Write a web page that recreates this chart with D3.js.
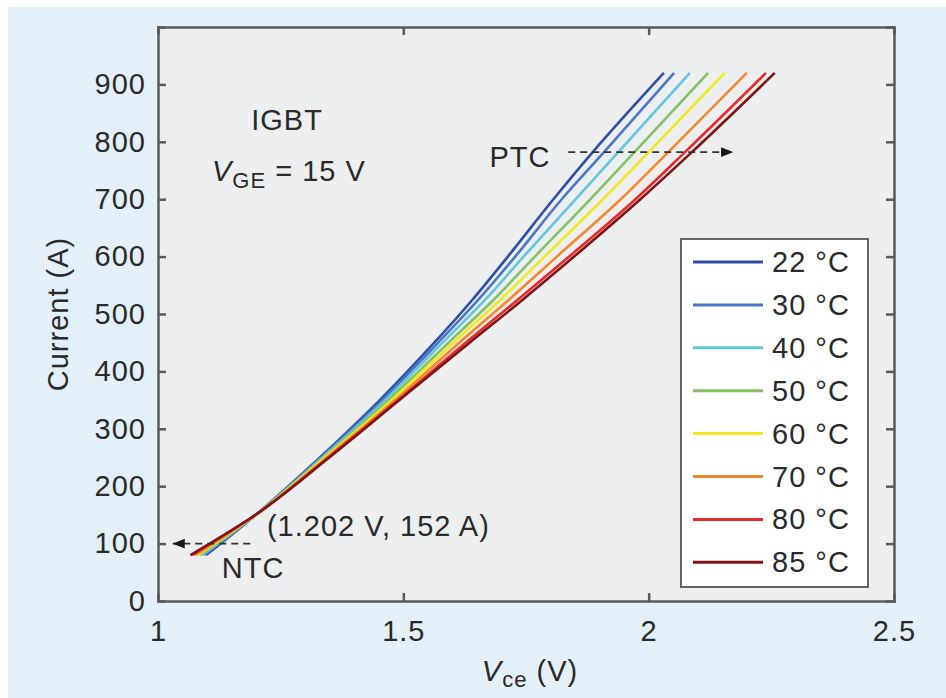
<!DOCTYPE html>
<html>
<head>
<meta charset="utf-8">
<script src="https://cdn.jsdelivr.net/npm/d3@7"></script>
<style>
  body { margin: 0; background: #fff; }
  text { font-family: "Liberation Sans", Arial, sans-serif; fill: #2a2a2a; letter-spacing: 1px; }
</style>
</head>
<body>
<svg id="chart" width="946" height="698"></svg>
<script>
// current levels (A) shared by every curve
const currents = [80, 152, 250, 350, 450, 524, 600, 699, 782, 920];
const temps = ["22 °C", "30 °C", "40 °C", "50 °C", "60 °C", "70 °C", "80 °C", "85 °C"];
const colors = ["#2f4ea6", "#4a78c6", "#62c6dc", "#84c266", "#eeea1c", "#f2882e", "#e62a2a", "#7c1616"];
// Vce (V) of each curve at the current levels above
const vce22 = [1.098, 1.202, 1.330, 1.452, 1.563, 1.640, 1.713, 1.805, 1.886, 2.031];
const vce30 = [1.094, 1.202, 1.332, 1.457, 1.571, 1.652, 1.728, 1.822, 1.909, 2.052];
const vce40 = [1.090, 1.202, 1.335, 1.463, 1.580, 1.666, 1.745, 1.850, 1.938, 2.084];
const vce50 = [1.085, 1.202, 1.338, 1.470, 1.592, 1.683, 1.768, 1.880, 1.971, 2.121];
const vce60 = [1.081, 1.202, 1.340, 1.476, 1.602, 1.697, 1.788, 1.906, 2.000, 2.155];
const vce70 = [1.076, 1.202, 1.344, 1.483, 1.614, 1.714, 1.813, 1.942, 2.040, 2.200];
const vce80 = [1.070, 1.202, 1.347, 1.489, 1.627, 1.732, 1.838, 1.972, 2.074, 2.239];
const vce85 = [1.066, 1.202, 1.349, 1.492, 1.635, 1.742, 1.848, 1.982, 2.088, 2.257];
const allVce = [vce22, vce30, vce40, vce50, vce60, vce70, vce80, vce85];

const xTicks = [1, 1.5, 2, 2.5];
const yTicks = [0, 100, 200, 300, 400, 500, 600, 700, 800, 900];

const svg = d3.select("#chart");
const pL = 158, pR = 894, pT = 27, pB = 601;
const fs = "29px";

const x = d3.scaleLinear().domain([1, 2.5]).range([pL, pR]);
const y = d3.scaleLinear().domain([0, 1000]).range([pB, pT]);

// outer light blue panel
svg.append("rect").attr("x", 8).attr("y", 7).attr("width", 938).attr("height", 691).attr("fill", "#e3eff9");
// plot background
svg.append("rect").attr("x", pL).attr("y", pT).attr("width", pR - pL).attr("height", pB - pT)
  .attr("fill", "#eceef0");

const axisCol = "#5a5a5a";
const tickLen = 8;

//axes: ticks pointing inward on all four sides
const axB = svg.append("g").attr("transform", `translate(0,${pB})`)
  .call(d3.axisBottom(x).tickValues(xTicks).tickSize(-tickLen).tickPadding(19).tickFormat(d3.format("")));
const axT = svg.append("g").attr("transform", `translate(0,${pT})`)
  .call(d3.axisTop(x).tickValues(xTicks).tickSize(-tickLen).tickFormat(""));
const axL = svg.append("g").attr("transform", `translate(${pL},0)`)
  .call(d3.axisLeft(y).tickValues(yTicks).tickSize(-tickLen).tickPadding(12));
const axR = svg.append("g").attr("transform", `translate(${pR},0)`)
  .call(d3.axisRight(y).tickValues(yTicks).tickSize(-tickLen).tickFormat(""));

[axB, axT, axL, axR].forEach(g => {
  g.select(".domain").attr("stroke", axisCol).attr("stroke-width", 2.5);
  g.selectAll(".tick line").attr("stroke", axisCol).attr("stroke-width", 2.5);
  g.selectAll(".tick text").style("font-size", fs).attr("fill", "#2a2a2a")
    .style("font-family", "'Liberation Sans', Arial, sans-serif");
});
axB.selectAll(".tick text").attr("dy", "0.71em");
// drop the end ticks that sit on the frame corners
axB.selectAll(".tick line").filter(d => d === 1 || d === 2.5).remove();
axT.selectAll(".tick line").filter(d => d === 1 || d === 2.5).remove();
axL.selectAll(".tick line").filter(d => d === 0).remove();
axR.selectAll(".tick line").filter(d => d === 0).remove();

// curves
const line = d3.line().x(d => x(d.v)).y(d => y(d.i)).curve(d3.curveMonotoneY);
allVce.forEach((vs, k) => {
  const pts = vs.map((v, j) => ({ v: v, i: currents[j] }));
  svg.append("path").datum(pts).attr("d", line)
    .attr("fill", "none").attr("stroke", colors[k]).attr("stroke-width", 2.6)
    .attr("stroke-linejoin", "round");
});

// arrowhead marker
svg.append("defs").append("marker").attr("id", "arr")
  .attr("viewBox", "0 0 10 10").attr("refX", 10).attr("refY", 5)
  .attr("markerWidth", 12).attr("markerHeight", 12).attr("markerUnits", "userSpaceOnUse")
  .attr("orient", "auto")
  .append("path").attr("d", "M0,1 L10,5 L0,9 Z").attr("fill", "#1a1a1a");

svg.append("line").attr("x1", x(1.836)).attr("x2", x(2.172)).attr("y1", y(782)).attr("y2", y(782))
  .attr("stroke", "#333").attr("stroke-width", 1.6).attr("stroke-dasharray", "7,5")
  .attr("marker-end", "url(#arr)");
svg.append("line").attr("x1", x(1.188)).attr("x2", x(1.03)).attr("y1", y(100)).attr("y2", y(100))
  .attr("stroke", "#333").attr("stroke-width", 1.6).attr("stroke-dasharray", "7,5")
  .attr("marker-end", "url(#arr)");

// annotations
svg.append("text").attr("x", x(1.8)).attr("y", y(782) + 15).attr("text-anchor", "end")
  .style("font-size", fs).text("PTC");
svg.append("text").attr("x", x(1.222)).attr("y", y(130) + 10)
  .style("font-size", fs).text("(1.202 V, 152 A)");
svg.append("text").attr("x", x(1.13)).attr("y", y(58) + 10)
  .style("font-size", fs).text("NTC");
svg.append("text").attr("x", x(1.263)).attr("y", y(838) + 10).attr("text-anchor", "middle")
  .style("font-size", fs).text("IGBT");
const vge = svg.append("text").attr("x", x(1.11)).attr("y", y(752) + 12).style("font-size", fs);
vge.append("tspan").style("font-style", "italic").text("V");
vge.append("tspan").attr("dy", 7).style("font-size", "22px").text("GE");
vge.append("tspan").attr("dy", -7).text(" = 15 V");

// axis titles
const xt = svg.append("text").attr("x", (pL + pR) / 2 + 4).attr("y", 681).attr("text-anchor", "middle")
  .style("font-size", fs);
xt.append("tspan").style("font-style", "italic").text("V");
xt.append("tspan").attr("dy", 6).style("font-size", "22px").text("ce");
xt.append("tspan").attr("dy", -6).text(" (V)");

svg.append("text").attr("transform", `translate(68,${(pT + pB) / 2}) rotate(-90)`)
  .attr("text-anchor", "middle").style("font-size", fs).text("Current (A)");

// legend
const lg = svg.append("g").attr("transform", "translate(681,239)");
lg.append("rect").attr("width", 187).attr("height", 348).attr("fill", "#fff")
  .attr("stroke", "#666").attr("stroke-width", 2);
temps.forEach((t, k) => {
  const yy = 23 + k * 42.9;
  lg.append("line").attr("x1", 12).attr("x2", 82).attr("y1", yy).attr("y2", yy)
    .attr("stroke", colors[k]).attr("stroke-width", 3);
  lg.append("text").attr("x", 91).attr("y", yy + 10).style("font-size", fs).text(t);
});
</script>
</body>
</html>
